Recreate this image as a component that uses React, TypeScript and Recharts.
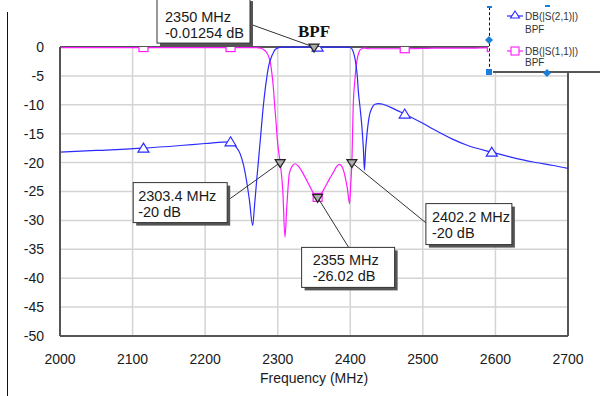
import React from "react";
import * as R from "recharts";
import {
  CartesianGrid,
  ComposedChart,
  Label,
  Line,
  ReferenceDot,
  ReferenceLine,
  XAxis,
  YAxis,
} from "recharts";

// frequency points (MHz) and the two traces (dB)
const freq = [
  2000, 2050, 2115, 2170, 2200, 2235, 2242, 2248, 2253, 2257, 2261, 2265.5,
  2268, 2271, 2276, 2280, 2285, 2288, 2290, 2292, 2294, 2296, 2298, 2299.5,
  2301, 2303.4, 2307, 2310, 2312.5, 2316, 2320, 2324, 2329, 2335, 2341, 2347,
  2350, 2355, 2360, 2365, 2371, 2377, 2381, 2385, 2389, 2393, 2396, 2399,
  2400.5, 2402.2, 2404, 2406.5, 2408, 2410, 2411, 2413.5, 2416, 2418, 2419.5,
  2421, 2422.6, 2426, 2430, 2434, 2439, 2445, 2455, 2475, 2500, 2514, 2540,
  2561, 2595, 2620, 2652, 2680, 2700,
];
const s21 = [
  -18.2, -17.9, -17.5, -17.0, -16.7, -16.4, -17.2, -18.4, -20.5, -23.1, -26.5,
  -30.9, -27.5, -23.1, -16.1, -10.4, -5.2, -3.0, -2.2, -1.5, -1.0, -0.5, -0.3,
  -0.2, -0.1, -0.05, -0.03, -0.02, -0.02, -0.02, -0.02, -0.02, -0.02, -0.02,
  -0.02, -0.01, -0.01254, -0.01, -0.01, -0.01, -0.01, -0.01, -0.01, -0.02,
  -0.02, -0.03, -0.05, -0.08, -0.12, -0.3, -0.8, -2.0, -3.2, -5.6, -7.5, -10.5,
  -13.8, -17.5, -21.3, -18.0, -15.6, -12.1, -10.5, -9.9, -9.8, -9.9, -10.4,
  -11.6, -13.2, -14.2, -15.9, -17.0, -18.2, -19.0, -19.9, -20.5, -21.0,
];
const s11 = [
  -0.1, -0.1, -0.1, -0.1, -0.1, -0.1, -0.1, -0.1, -0.1, -0.1, -0.1, -0.1,
  -0.1, -0.1, -0.2, -0.4, -1.0, -1.8, -2.8, -4.6, -7.0, -10.4, -13.5, -16.1,
  -17.8, -20, -24.8, -32.9, -27.7, -21.9, -20.6, -20.2, -20.7, -21.9, -23.3,
  -24.8, -25.5, -26.02, -25.4, -24.3, -22.9, -21.6, -20.7, -20.3, -20.8, -22.5,
  -24.5, -27.1, -24.0, -20, -10.4, -5.5, -3.4, -1.8, -1.3, -0.5, -0.3, -0.2,
  -0.2, -0.2, -0.25, -0.3, -0.3, -0.3, -0.3, -0.3, -0.3, -0.3, -0.25, -0.2,
  -0.2, -0.2, -0.1, -0.1, -0.1, -0.1, -0.1,
];

// points where the trace symbols sit
const symbolFreqs = [2115, 2235, 2355, 2475, 2595];

// marker readouts
const markerFreqs = [2350, 2303.4, 2355, 2402.2];
const markerDb = [-0.01254, -20, -26.02, -20];

const xTicks = [2000, 2100, 2200, 2300, 2400, 2500, 2600, 2700];
const yTicks = [0, -5, -10, -15, -20, -25, -30, -35, -40, -45, -50];

const seriesNames = ["DB(|S(2,1)|)", "DB(|S(1,1)|)"];
const sourceName = "BPF";

const BLUE = "#2b2bff";
const PINK = "#ff1aff";
const FONT = "Arial, 'Liberation Sans', sans-serif";

const data = freq.map((f, i) => ({ f, s21: s21[i], s11: s11[i] }));

// readout box placement relative to the marker point
const boxes = [
  { dx: -157, dy: -49, w: 93, h: 45, pad: 8, base: 23.5, ax: -64, ay: -23 },
  { dx: -147, dy: 20, w: 94, h: 40, pad: 5, base: 18, ax: -50, ay: 36 },
  { dx: -16, dy: 50, w: 93, h: 40, pad: 11, base: 18, ax: 31, ay: 50 },
  { dx: 74, dy: 41, w: 86, h: 41, pad: 6, base: 18, ax: 75, ay: 61 },
];

const isSymbol = (f: number) => symbolFreqs.includes(f);

const usePlotArea = (): any => {
  const hook = (R as any).usePlotArea;
  return hook ? hook() : null;
};

// symbol shapes, cut at the edge of the plot like the original
const Symbol = ({ cx, cy, id, kind }: any) => {
  const area = usePlotArea();
  const clipId = `sym-${id}`;
  const shape =
    kind === "tri" ? (
      <path
        d={`M${cx},${cy - 5} L${cx + 5.5},${cy + 4} L${cx - 5.5},${cy + 4} Z`}
        fill="#fff"
        stroke={BLUE}
        strokeWidth={1.2}
      />
    ) : (
      <rect x={cx - 4.5} y={cy - 4} width={9} height={8} fill="#fff" stroke={PINK} strokeWidth={1.2} />
    );
  if (!area) return shape;
  return (
    <g>
      <defs>
        <clipPath id={clipId}>
          <rect x={area.x} y={area.y} width={area.width} height={area.height} />
        </clipPath>
      </defs>
      <g clipPath={`url(#${clipId})`}>{shape}</g>
    </g>
  );
};

const S21Dot = (props: any) => {
  const { cx, cy, payload, index } = props;
  if (!isSymbol(payload.f)) return <g key={`a${index}`} />;
  return <Symbol key={`a${index}`} cx={cx} cy={cy} id={`a${index}`} kind="tri" />;
};

const S11Dot = (props: any) => {
  const { cx, cy, payload, index } = props;
  if (!isSymbol(payload.f)) return <g key={`b${index}`} />;
  return <Symbol key={`b${index}`} cx={cx} cy={cy} id={`b${index}`} kind="sq" />;
};

const Readout = ({ cx, cy, i }: any) => {
  const b = boxes[i];
  const x = cx + b.dx;
  const y = cy + b.dy;
  return (
    <g>
      <line x1={cx + b.ax} y1={cy + b.ay} x2={cx} y2={cy} stroke="#333" strokeWidth={1} />
      <rect x={x + 3} y={y + 3} width={b.w} height={b.h} fill="#555" />
      <rect x={x} y={y} width={b.w} height={b.h} fill="#fff" stroke="#333" strokeWidth={1} />
      <text x={x + b.pad} y={y + b.base} fontSize={14.5} fontFamily={FONT} fill="#1a1a1a">
        {`${markerFreqs[i]} MHz`}
      </text>
      <text x={x + b.pad} y={y + b.base + 16} fontSize={14.5} fontFamily={FONT} fill="#1a1a1a">
        {`${markerDb[i]} dB`}
      </text>
      <path
        d={`M${cx - 5},${cy - 3} L${cx + 5},${cy - 3} L${cx},${cy + 5} Z`}
        fill="#aaa"
        stroke="#222"
        strokeWidth={1.2}
      />
    </g>
  );
};

const Legend = () => (
  <div
    style={{
      position: "absolute",
      left: 489,
      top: 0,
      width: 111,
      height: 73,
      background: "#fff",
      fontFamily: FONT,
      fontSize: 10,
      color: "#333",
    }}
  >
    <div style={{ position: "absolute", left: 0, top: 7, height: 65, borderLeft: "1px dashed #111" }} />
    <div style={{ position: "absolute", left: 4, top: 71, width: 107, borderTop: "2px solid #555" }} />
    <svg width={111} height={80} style={{ position: "absolute", left: 0, top: 0, overflow: "visible" }}>
      <rect x={-2} y={6} width={5} height={2} fill="#1a7fd6" />
      <rect x={56} y={5} width={5} height={2} fill="#1a7fd6" />
      <path d="M0,36 L4,40 L0,44 L-4,40 Z" fill="#1a7fd6" />
      <path d="M58,69 L62,73 L58,77 L54,73 Z" fill="#1a7fd6" />
      <rect x={-3} y={69} width={6} height={6} fill="#1a7fd6" />
      <line x1={18} y1={16} x2={34} y2={16} stroke={BLUE} strokeWidth={1.2} />
      <path d="M26,11 L30.5,18 L21.5,18 Z" fill="#fff" stroke={BLUE} strokeWidth={1.1} />
      <line x1={18} y1={51} x2={34} y2={51} stroke={PINK} strokeWidth={1.2} />
      <rect x={22} y={47} width={8} height={8} fill="#fff" stroke={PINK} strokeWidth={1.1} />
      <text x={36} y={19.5} fontSize={10} fontFamily={FONT} fill="#333">{seriesNames[0]}</text>
      <text x={36} y={33} fontSize={10} fontFamily={FONT} fill="#333">{sourceName}</text>
      <text x={36} y={54.5} fontSize={10} fontFamily={FONT} fill="#333">{seriesNames[1]}</text>
      <text x={36} y={66} fontSize={10} fontFamily={FONT} fill="#333">{sourceName}</text>
    </svg>
  </div>
);

const App = () => {
  return (
    <div style={{ position: "absolute", left: 0, top: 0, width: 600, height: 396, background: "#fff" }}>
      <ComposedChart
        width={600}
        height={396}
        data={data}
        margin={{ top: 47, right: 32, left: 0, bottom: 0 }}
      >
        <CartesianGrid stroke="#d4d4d4" strokeWidth={1.5} />
        <XAxis
          type="number"
          dataKey="f"
          domain={[2000, 2700]}
          ticks={xTicks}
          height={60}
          tickLine={false}
          tickSize={0}
          tickMargin={18}
          axisLine={{ stroke: "#555", strokeWidth: 2 }}
          tick={{ fill: "#1a1a1a", fontSize: 14, fontFamily: FONT }}
        >
          <Label
            value="Frequency (MHz)"
            position="insideBottom"
            offset={13}
            fill="#1a1a1a"
            fontSize={14}
            fontFamily={FONT}
          />
        </XAxis>
        <YAxis
          type="number"
          domain={[-50, 0]}
          ticks={yTicks}
          width={60}
          tickLine={false}
          tickSize={0}
          tickMargin={16}
          axisLine={{ stroke: "#555", strokeWidth: 2 }}
          tick={{ fill: "#1a1a1a", fontSize: 14, fontFamily: FONT }}
        />
        <ReferenceLine y={0} stroke="#555" strokeWidth={2} />
        <ReferenceLine x={2700} stroke="#555" strokeWidth={2} />
        <Line
          dataKey="s11"
          type="monotone"
          stroke={PINK}
          strokeWidth={1.2}
          dot={S11Dot}
          activeDot={false}
          isAnimationActive={false}
        />
        <Line
          dataKey="s21"
          type="monotone"
          stroke={BLUE}
          strokeWidth={1.2}
          dot={S21Dot}
          activeDot={false}
          isAnimationActive={false}
        />
        {markerFreqs.map((f, i) => (
          <ReferenceDot
            key={f}
            x={f}
            y={markerDb[i]}
            r={4}
            shape={(p: any) => <Readout cx={p.cx} cy={p.cy} i={i} />}
          />
        ))}
      </ComposedChart>
      <div
        style={{
          position: "absolute",
          left: 0,
          top: 25,
          width: 628,
          textAlign: "center",
          fontFamily: "'Liberation Serif', 'Times New Roman', serif",
          fontWeight: "bold",
          fontSize: 17,
          lineHeight: "14px",
          color: "#111",
        }}
      >
        {sourceName}
      </div>
      <div style={{ position: "absolute", left: 7, top: 12, height: 384, borderLeft: "1px solid #111" }} />
      <Legend />
    </div>
  );
};

export default App;
